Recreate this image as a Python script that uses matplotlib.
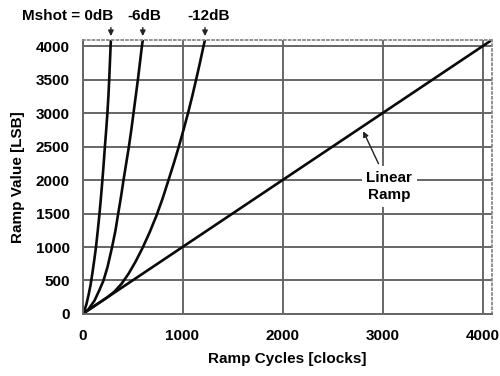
import numpy as np
import matplotlib
matplotlib.use('Agg')
import matplotlib.pyplot as plt

plt.rcParams['font.family'] = ['Liberation Sans', 'DejaVu Sans']
plt.rcParams['font.weight'] = 'bold'

# ramp curves (clocks, LSB)
linear_x = [0, 4095]
linear_y = [0, 4095]
db0_x = [0, 20, 40, 60, 80, 100, 118, 135, 153, 170, 185, 199, 212, 224, 237, 249, 259, 267, 274, 281, 284]
db0_y = [0, 55, 150, 280, 430, 620, 810, 1000, 1250, 1500, 1750, 2000, 2250, 2500, 2750, 3000, 3250, 3500, 3750, 4000, 4095]
db6_x = [0, 60, 120, 170, 210, 250, 296, 330, 357, 385, 410, 437, 464, 488, 510, 532, 554, 574, 594, 603]
db6_y = [0, 70, 200, 360, 500, 700, 1000, 1250, 1500, 1750, 2000, 2250, 2500, 2750, 3000, 3250, 3500, 3750, 4000, 4095]
db12_x = [0, 250, 320, 390, 460, 530, 600, 670, 740, 800, 860, 915, 965, 1012, 1055, 1097, 1136, 1174, 1210, 1225]
db12_y = [0, 250, 335, 450, 600, 780, 985, 1215, 1470, 1720, 2000, 2260, 2510, 2760, 3000, 3250, 3500, 3750, 4000, 4095]

x_ticks = [0, 1000, 2000, 3000, 4000]
y_ticks = [0, 500, 1000, 1500, 2000, 2500, 3000, 3500, 4000]
curve_labels = ['Mshot = 0dB', '-6dB', '-12dB']

fig = plt.figure(figsize=(5, 3.76), dpi=100)
ax = fig.add_axes([0.165, 0.165, 0.819, 0.729])

ax.set_xlim(0, 4095); ax.set_ylim(0, 4095)
ax.set_xticks(x_ticks); ax.set_yticks(y_ticks)
ax.grid(True, color='#666666', lw=1.4)
ax.set_axisbelow(True)
ax.tick_params(length=0, labelsize=11)
ax.tick_params(axis='x', pad=11)
ax.tick_params(axis='y', pad=9)
for s in ['left', 'bottom']:
    ax.spines[s].set_color('#666666'); ax.spines[s].set_linewidth(1.4)
for s in ['top', 'right']:
    ax.spines[s].set_color('#888888'); ax.spines[s].set_linestyle(':'); ax.spines[s].set_linewidth(1.3)

for xs, ys in [(linear_x, linear_y), (db0_x, db0_y), (db6_x, db6_y), (db12_x, db12_y)]:
    ax.plot(xs, ys, color='#0a0a0a', lw=1.9, solid_joinstyle='round')

ax.set_xlabel('Ramp Cycles [clocks]', fontsize=11, fontweight='bold', labelpad=6)
ax.set_ylabel('Ramp Value [LSB]', fontsize=11, fontweight='bold', labelpad=8)

# top labels with arrows
tops = [db0_x[-1], db6_x[-1], db12_x[-1]]
text_x = [-150, 620, 1260]
for lbl, tx, px in zip(curve_labels, text_x, tops):
    ax.annotate(lbl, xy=(px, 4095), xytext=(tx, 4450), textcoords='data',
                ha='center', va='center', fontsize=11, fontweight='bold',
                annotation_clip=False)
    ax.annotate('', xy=(px, 4110), xytext=(px, 4320), annotation_clip=False,
                arrowprops=dict(arrowstyle='-|>', color='#222222', lw=1.0, mutation_scale=8))

ax.annotate('Linear\nRamp', xy=(2807, 2730), xytext=(3067, 1905), ha='center', va='center',
            fontsize=11, fontweight='bold', linespacing=1.3,
            bbox=dict(boxstyle='square,pad=0.3', fc='white', ec='none'),
            arrowprops=dict(arrowstyle='-|>', color='#222222', lw=1.0, mutation_scale=8,
                            shrinkA=2, shrinkB=0))

fig.savefig('out.png', dpi=100)
